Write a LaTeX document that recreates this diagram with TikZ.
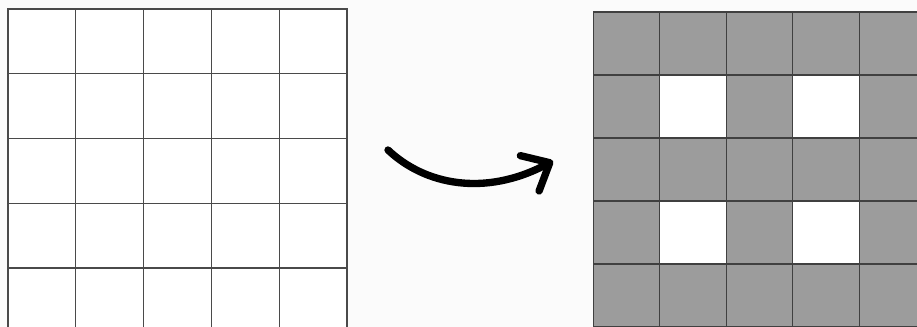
\documentclass[tikz,border=0pt]{standalone}
\usetikzlibrary{arrows.meta}
\definecolor{gridline}{HTML}{4A4A4A}
\definecolor{cellfill}{HTML}{9C9C9C}
\definecolor{bgpaper}{HTML}{FBFBFB}

\begin{document}
\begin{tikzpicture}[x=0.75pt, y=-0.75pt,
  cell/.style={rectangle, draw=gridline, fill=white, line width=0.8pt,
               inner sep=0pt, outer sep=0pt, anchor=north west,
               minimum width=50.85pt, minimum height=48.56pt},
  filled/.style={cell, fill=cellfill, draw=black!75,
                 minimum width=49.8pt, minimum height=47.25pt},
  hole/.style={filled, fill=white},
  bigarrow/.style={-{Straight Barb[length=17pt, width=30pt, round]},
                   line width=5.5pt, line cap=round, line join=round},
]
\useasboundingbox (0,0) rectangle (917,327);
\fill[bgpaper] (0,0) rectangle (917,327);
\clip (0,0) rectangle (917,327);

% input grid
\foreach \i in {0,...,4}
  \foreach \j in {0,...,4}
    \node[cell] (in-\i-\j) at ({8+67.8*\i},{9+64.75*\j}) {};

% output grid, white where column and row are both odd
\foreach \i in {0,...,4}
  \foreach \j in {0,...,4} {
    \pgfmathtruncatemacro{\w}{isodd(\i)*isodd(\j)}
    \ifnum\w=1
      \node[hole] (out-\i-\j) at ({593.5+66.4*\i},{12+63*\j}) {};
    \else
      \node[filled] (out-\i-\j) at ({593.5+66.4*\i},{12+63*\j}) {};
    \fi
  }

% arrow between the grids
\coordinate (arr-start) at (388,150);
\coordinate (arr-end) at (553,161);
\draw[bigarrow] (arr-start) .. controls (425,185) and (485,197) .. (arr-end);
\end{tikzpicture}
\end{document}
